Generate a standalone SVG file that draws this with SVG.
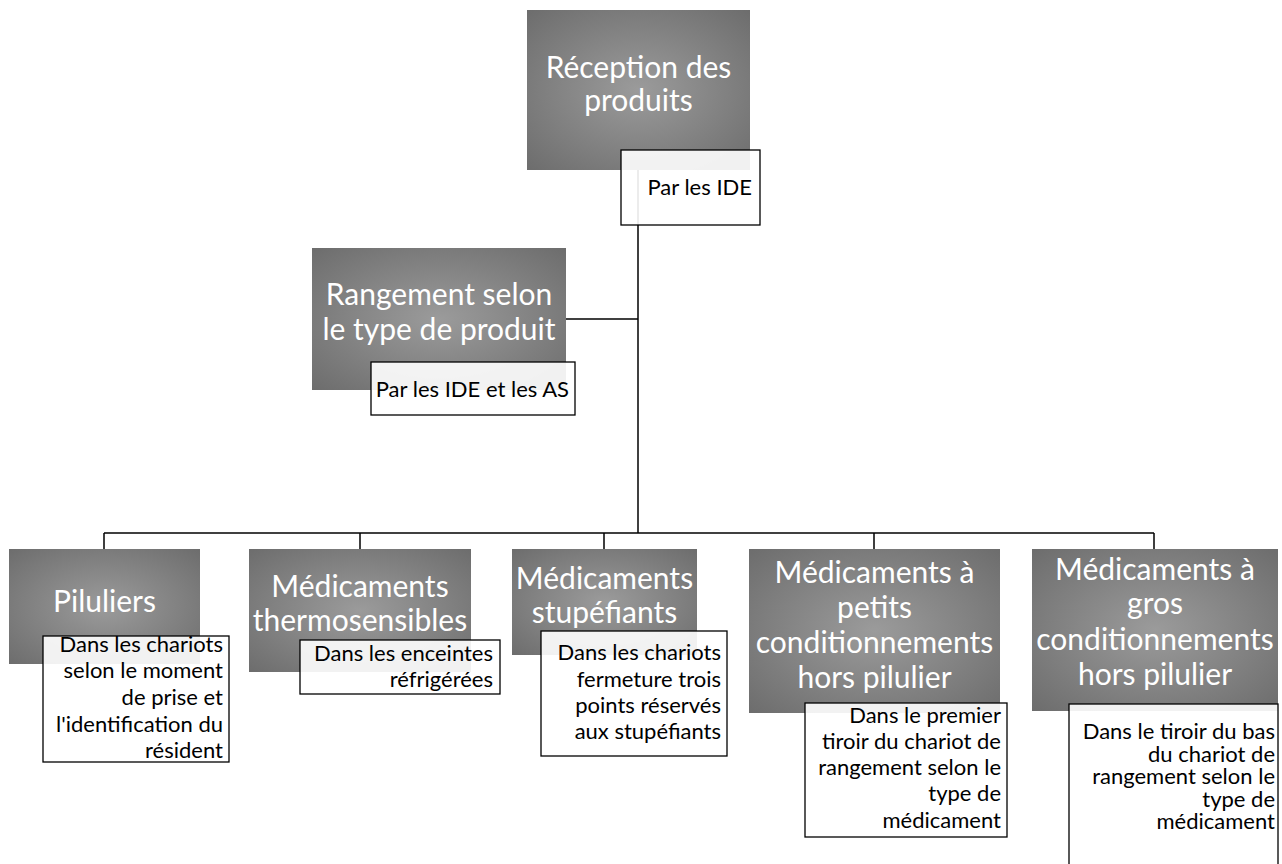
<svg xmlns="http://www.w3.org/2000/svg" width="1282" height="864" viewBox="0 0 1282 864">
<defs>
<radialGradient id="g" cx="0.5" cy="0.5" r="0.7">
<stop offset="0" stop-color="#9b9b9b"/>
<stop offset="1" stop-color="#6d6d6d"/>
</radialGradient>
<style>
.box{fill:url(#g)}
.note{fill:#fff;fill-opacity:0.9;stroke:#000;stroke-width:1.3}
.t{font-family:Lato,"Liberation Sans",sans-serif;fill:#fff;font-size:30px;text-anchor:middle}
.n{font-family:Lato,"Liberation Sans",sans-serif;fill:#000;font-size:22px;text-anchor:end}
.c{stroke:#000;stroke-width:1.5;fill:none}
</style>
</defs>
<rect width="1282" height="864" fill="#fff"/>
<g id="connectors">
<path class="c" d="M638,170V533" stroke-width="2"/>
<path class="c" d="M566,319H638"/>
<path class="c" d="M104,533H1154"/>
<path class="c" d="M104,533V549M360,533V549M604,533V549M874,533V549M1154,533V549"/>
</g>
<g id="reception">
<rect class="box" x="527" y="10" width="223" height="160"/>
<text class="t" x="638.5" y="78">Réception des</text>
<text class="t" x="638.5" y="111">produits</text>
<rect class="note" x="621" y="150" width="139" height="75"/>
<text class="n" x="752" y="195">Par les IDE</text>
</g>
<g id="rangement">
<rect class="box" x="312" y="248" width="254" height="142"/>
<text class="t" x="439" y="305">Rangement selon</text>
<text class="t" x="439" y="340">le type de produit</text>
<rect class="note" x="371" y="362" width="204" height="53"/>
<text class="n" x="569" y="397">Par les IDE et les AS</text>
</g>
<g id="piluliers">
<rect class="box" x="9" y="549" width="191" height="115"/>
<text class="t" x="104.5" y="612">Piluliers</text>
<rect class="note" x="43" y="636" width="186" height="126"/>
<text class="n" x="223" y="652">Dans les chariots</text>
<text class="n" x="223" y="678">selon le moment</text>
<text class="n" x="223" y="705">de prise et</text>
<text class="n" x="223" y="732">l'identification du</text>
<text class="n" x="223" y="758">résident</text>
</g>
<g id="thermo">
<rect class="box" x="249" y="549" width="222" height="123"/>
<text class="t" x="360" y="597">Médicaments</text>
<text class="t" x="360" y="631">thermosensibles</text>
<rect class="note" x="300" y="640" width="200" height="54"/>
<text class="n" x="493" y="661">Dans les enceintes</text>
<text class="n" x="493" y="687">réfrigérées</text>
</g>
<g id="stupefiants">
<rect class="box" x="512" y="549" width="185" height="106"/>
<text class="t" x="604.5" y="589">Médicaments</text>
<text class="t" x="604.5" y="623">stupéfiants</text>
<rect class="note" x="541" y="631" width="186" height="125"/>
<text class="n" x="721" y="660">Dans les chariots</text>
<text class="n" x="721" y="687">fermeture trois</text>
<text class="n" x="721" y="713">points réservés</text>
<text class="n" x="721" y="739">aux stupéfiants</text>
</g>
<g id="petits">
<rect class="box" x="749" y="549" width="251" height="164"/>
<text class="t" x="874.5" y="583">Médicaments à</text>
<text class="t" x="874.5" y="618">petits</text>
<text class="t" x="874.5" y="653">conditionnements</text>
<text class="t" x="874.5" y="688">hors pilulier</text>
<rect class="note" x="805" y="703" width="202" height="134"/>
<text class="n" x="1001" y="723">Dans le premier</text>
<text class="n" x="1001" y="749">tiroir du chariot de</text>
<text class="n" x="1001" y="775">rangement selon le</text>
<text class="n" x="1001" y="801">type de</text>
<text class="n" x="1001" y="828">médicament</text>
</g>
<g id="gros">
<rect class="box" x="1032" y="549" width="246" height="162"/>
<text class="t" x="1155" y="580">Médicaments à</text>
<text class="t" x="1155" y="614">gros</text>
<text class="t" x="1155" y="650">conditionnements</text>
<text class="t" x="1155" y="685">hors pilulier</text>
<rect class="note" x="1069" y="704" width="209" height="170"/>
<text class="n" x="1275" y="739">Dans le tiroir du bas</text>
<text class="n" x="1275" y="761.5">du chariot de</text>
<text class="n" x="1275" y="784">rangement selon le</text>
<text class="n" x="1275" y="806.5">type de</text>
<text class="n" x="1275" y="829">médicament</text>
</g>
</svg>
